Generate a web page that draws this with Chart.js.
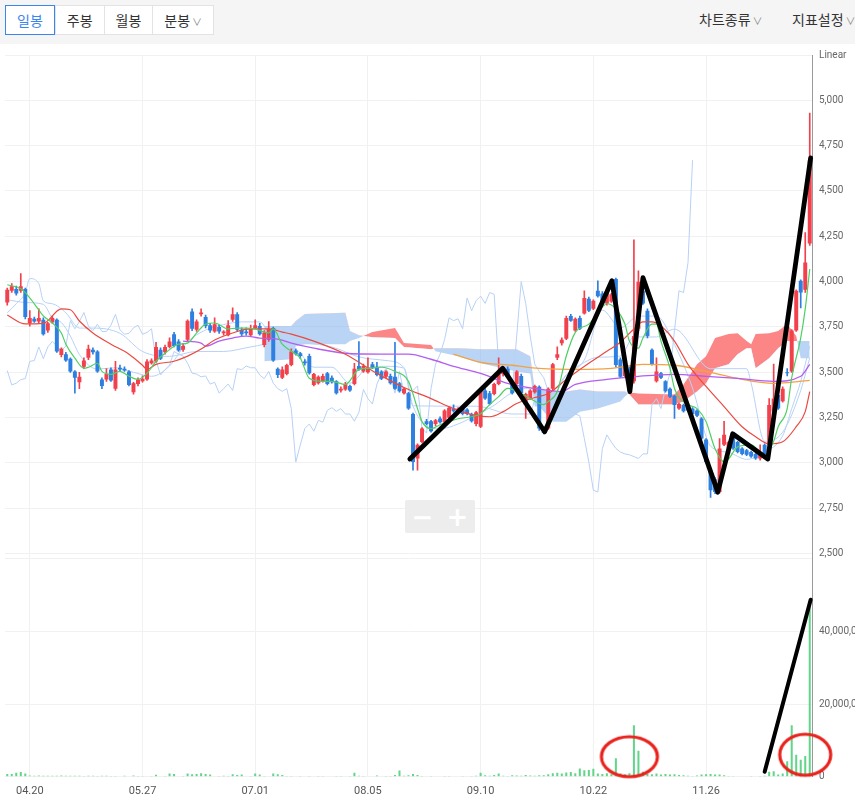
<!DOCTYPE html>
<html lang="ko">
<head>
<meta charset="utf-8">
<title>일봉 차트</title>
<script src="https://cdn.jsdelivr.net/npm/chart.js@4.4.1/dist/chart.umd.min.js"></script>
<style>
  html, body { margin: 0; padding: 0; background: #fff; }
  body { width: 855px; height: 801px; position: relative; overflow: hidden;
         font-family: "Noto Sans CJK KR", "Noto Sans", sans-serif; }
  #chart { position: absolute; left: 0; top: 0; }
  #bar { position: absolute; left: 0; top: 0; width: 855px; height: 44px; background: #f5f5f5; }
  .tabs { position: absolute; left: 5px; top: 5px; display: flex; background: #fff; border: 1px solid #e3e3e3; }
  .tabs b { display: block; height: 28px; line-height: 28px; padding: 0 11px; font-size: 14px; font-weight: normal; color: #333; border-left: 1px solid #e3e3e3; }
  .tabs b.on { border: 1px solid #3a86f0; color: #3a86f0; margin: -1px 0 -1px -1px; }
  .menu { position: absolute; top: 9px; font-size: 14px; color: #333; white-space: nowrap; }
  i.arr { font-style: normal; font-size: 10px; color: #888; margin-left: 2px; }
  #zoomer { position: absolute; left: 405px; top: 500px; width: 70px; height: 33px; background: #ededed; border-radius: 2px;
            display: flex; justify-content: space-around; align-items: center; color: #fff; font: bold 26px "DejaVu Sans", sans-serif; }
</style>
</head>
<body>
<canvas id="chart" width="855" height="812"></canvas>
<div id="bar">
  <div class="tabs"><b class="on">일봉</b><b>주봉</b><b>월봉</b><b>분봉<i class="arr">∨</i></b></div>
  <div class="menu" style="left:699px">차트종류<i class="arr">∨</i></div>
  <div class="menu" style="left:792px">지표설정<i class="arr">∨</i></div>
</div>
<div id="zoomer"><span>−</span><span>+</span></div>
<script>
// 일봉 시세 (원)
const openP = [3885,3950,3960,3950,3960,3770,3795,3780,3790,3730,
  3775,3790,3595,3600,3575,3505,3445,3530,3580,3625,
  3615,3460,3460,3515,3410,3525,3520,3505,3390,3435,
  3450,3460,3550,3560,3625,3610,3640,3710,3670,3625,
  3680,3835,3735,3820,3805,3760,3725,3750,3715,3705,
  3790,3820,3735,3725,3705,3745,3755,3650,3680,3745,
  3520,3470,3490,3540,3620,3605,3560,3590,3430,3440,
  3450,3495,3470,3450,3400,3405,3425,3435,3535,3505,
  3500,3545,3525,3505,3475,3480,3475,3440,3385,3385,
  3270,3025,3115,3230,3230,3215,3245,3225,3250,3300,
  3285,3300,3295,3270,3215,3200,3400,3385,3380,3435,
  3490,3520,3435,3435,3480,3320,3355,3390,3420,3190,
  3190,3410,3580,3660,3685,3810,3730,3800,3825,3905,
  3850,3950,3935,3880,3890,4015,3570,3480,3520,3450,
  3740,3950,3840,3625,3450,3495,3450,3410,3370,3300,
  3320,3305,3300,3290,3245,3130,2950,2910,2840,3100,
  3080,3150,3115,3080,3070,3060,3050,3025,3100,3100,
  3285,3375,3340,3500,3505,3730,4005,3955,4210];
const highP = [3965,3990,3975,4045,3965,3840,3805,3850,3800,3775,
  3810,3795,3635,3610,3580,3510,3500,3580,3650,3635,
  3620,3470,3520,3525,3560,3540,3530,3510,3445,3470,
  3480,3570,3575,3665,3635,3650,3690,3720,3680,3660,
  3790,3850,3790,3850,3815,3770,3800,3760,3730,3785,
  3855,3830,3745,3745,3760,3790,3770,3730,3780,3750,
  3525,3530,3545,3630,3630,3610,3570,3600,3495,3480,
  3490,3500,3480,3455,3420,3445,3430,3550,3670,3545,
  3580,3555,3555,3510,3510,3490,3665,3445,3415,3390,
  3275,3105,3195,3240,3235,3240,3255,3295,3310,3320,
  3305,3310,3300,3275,3285,3410,3410,3395,3440,3580,
  3525,3530,3445,3510,3490,3385,3405,3430,3425,3195,
  3415,3550,3640,3690,3810,3820,3800,3810,3950,3915,
  3900,4005,3945,3945,3935,4020,3580,3545,3530,4230,
  4060,3965,3850,3630,3580,3500,3455,3415,3375,3330,
  3325,3310,3305,3295,3250,3135,2955,2920,3135,3230,
  3120,3155,3120,3085,3075,3065,3055,3100,3105,3355,
  3545,3380,3420,3520,3735,3955,4010,4270,4930];
const lowP = [3870,3940,3925,3940,3795,3755,3775,3770,3705,3720,
  3770,3610,3585,3560,3500,3385,3410,3520,3570,3600,
  3500,3410,3450,3450,3400,3505,3505,3425,3380,3425,
  3445,3455,3545,3555,3570,3600,3635,3640,3615,3615,
  3675,3730,3725,3810,3745,3720,3720,3715,3705,3700,
  3780,3730,3700,3705,3700,3740,3705,3640,3670,3560,
  3470,3465,3485,3535,3595,3575,3540,3490,3425,3435,
  3445,3430,3440,3380,3390,3400,3395,3430,3510,3500,
  3495,3520,3480,3460,3470,3435,3405,3390,3380,3295,
  2960,2960,3110,3210,3170,3205,3220,3215,3240,3280,
  3275,3265,3265,3225,3205,3195,3350,3320,3375,3430,
  3480,3470,3380,3430,3380,3245,3350,3385,3180,3160,
  3185,3400,3570,3650,3680,3780,3725,3735,3820,3835,
  3845,3915,3875,3870,3885,3530,3470,3470,3390,3440,
  3730,3875,3690,3540,3445,3465,3390,3360,3245,3295,
  3280,3285,3265,3255,3130,3000,2810,2830,2835,3095,
  3075,3075,3055,3045,3040,3030,3020,3015,3045,3095,
  3280,3295,3335,3480,3500,3725,3855,3940,4200];
const closeP = [3955,3975,3935,3975,3805,3800,3780,3800,3710,3770,
  3800,3615,3630,3565,3505,3470,3475,3565,3630,3610,
  3505,3425,3490,3455,3515,3515,3510,3430,3440,3460,
  3465,3560,3565,3640,3575,3640,3670,3645,3620,3645,
  3785,3740,3780,3830,3755,3730,3765,3725,3725,3760,
  3820,3735,3710,3715,3745,3760,3710,3720,3740,3565,
  3485,3515,3540,3615,3600,3590,3550,3495,3490,3475,
  3480,3435,3445,3385,3410,3435,3400,3520,3515,3535,
  3525,3525,3485,3465,3505,3440,3410,3395,3410,3300,
  3005,3100,3190,3215,3175,3235,3225,3290,3305,3285,
  3300,3270,3270,3230,3280,3405,3355,3325,3435,3490,
  3520,3475,3385,3505,3385,3380,3400,3425,3190,3165,
  3410,3545,3600,3680,3800,3785,3795,3740,3910,3840,
  3895,3920,3880,3940,3930,3540,3475,3540,3395,3700,
  4000,3880,3700,3545,3505,3470,3395,3365,3320,3325,
  3285,3290,3270,3260,3135,3005,2850,2840,3080,3155,
  3115,3080,3060,3050,3045,3035,3025,3050,3050,3320,
  3355,3300,3410,3495,3730,3950,3940,4105,4670];
// 거래량 (천주)
const volK = [750,750,1100,1300,900,350,300,350,300,320,
  300,280,350,300,280,320,300,250,300,280,
  250,300,280,200,250,150,300,120,350,100,
  80,150,100,550,120,100,900,800,150,100,
  900,700,800,1000,750,600,150,200,300,250,
  700,500,650,150,100,900,600,200,150,900,
  700,500,200,250,150,100,120,100,150,200,
  100,150,120,100,80,150,200,1100,300,200,
  150,120,350,150,100,200,500,1700,300,400,
  750,500,200,150,100,120,150,100,200,150,
  120,100,150,200,300,1100,400,300,500,900,
  300,200,400,350,300,500,350,300,450,400,
  700,1000,1100,900,1200,1300,1000,2300,1800,1900,
  2200,900,800,1000,700,5100,900,700,1000,14200,
  7200,1400,800,700,900,600,800,650,700,500,
  450,300,250,350,600,700,750,650,600,400,
  250,200,150,120,150,100,150,200,300,1400,
  1500,600,900,4300,14200,6100,4700,5700,48000];

const tickDates = ['04.20', '05.27', '07.01', '08.05', '09.10', '10.22', '11.26'];
const tickAt = [5, 30, 55, 80, 105, 130, 155];
const volTicks = [0, 20000, 40000, 60000];

// 이동평균선 [봉 위치, 값]
const ma5 = [[0,3983],[3,3961],[4,3939],[6,3878],[8,3811],[10,3772],[12,3717],[13,3655],[15,3578],[17,3522],[18,3528],
  [20,3550],[21,3505],[23,3489],[25,3505],[27,3478],[29,3461],[31,3494],[33,3561],[35,3605],[38,3655],[40,3661],
  [42,3717],[44,3766],[46,3772],[49,3739],[51,3744],[53,3744],[55,3739],[58,3717],[59,3739],[61,3655],[63,3616],
  [65,3578],[67,3467],[70,3450],[72,3450],[75,3433],[78,3516],[80,3522],[83,3528],[86,3505],[89,3450],[91,3300],
  [92,3228],[94,3189],[96,3211],[98,3228],[100,3244],[103,3255],[105,3272],[107,3322],[109,3366],[111,3411],
  [114,3383],[116,3355],[119,3322],[120,3339],[122,3394],[124,3590],[126,3720],[129,3766],[131,3828],[133,3878],
  [135,3850],[137,3766],[138,3672],[140,3633],[141,3689],[143,3766],[144,3766],[145,3672],[147,3522],[148,3411],
  [151,3322],[153,3300],[155,3228],[157,3078],[159,3006],[160,3022],[162,3089],[165,3100],[167,3061],[168,3044],
  [170,3120],[171,3200],[173,3300],[174,3470],[176,3690],[177,3850],[178,4070]];
const ma20 = [[0,3816],[4,3767],[8,3770],[12,3850],[14,3845],[16,3783],[19,3717],[23,3655],[27,3600],[30,3539],
  [31,3516],[33,3544],[37,3561],[40,3589],[43,3628],[46,3678],[50,3717],[54,3739],[58,3739],[61,3722],[63,3711],
  [68,3672],[75,3600],[82,3494],[88,3416],[94,3355],[99,3300],[104,3261],[107,3255],[110,3283],[113,3328],
  [117,3361],[120,3383],[124,3461],[129,3550],[133,3616],[136,3666],[139,3739],[141,3778],[143,3778],[145,3755],
  [148,3672],[151,3544],[155,3422],[159,3311],[163,3200],[166,3144],[169,3105],[172,3117],[175,3200],[177,3283],[178,3394]];
const ma60 = [[39,3672],[43,3661],[44,3644],[47,3672],[50,3689],[53,3700],[56,3689],[60,3683],[63,3661],[68,3633],
  [75,3605],[83,3600],[89,3600],[94,3572],[99,3533],[105,3494],[111,3439],[117,3411],[123,3394],[126,3433],
  [133,3461],[140,3478],[148,3489],[155,3478],[162,3466],[170,3450],[176,3478],[178,3544]];
const ma120 = [[99,3600],[105,3555],[112,3539],[118,3522],[127,3516],[134,3522],[141,3544],[148,3539],[155,3505],
  [162,3466],[170,3439],[178,3455]];

// 일목균형표
const tenkan = [[0,3900],[4,3885],[8,3875],[10,3800],[12,3775],[14,3700],[16,3598],[20,3518],[24,3525],[28,3500],
  [32,3478],[36,3535],[40,3668],[44,3733],[48,3763],[52,3778],[56,3778],[60,3630],[64,3623],[68,3528],[72,3528],
  [76,3440],[80,3525],[84,3533],[88,3523],[90,3313],[96,3188],[100,3215],[104,3263],[108,3318],[112,3388],
  [116,3413],[120,3335],[124,3485],[128,3568],[132,3843],[136,3745],[140,3810],[144,3810],[148,3653],[152,3413],
  [156,3093],[160,3058],[164,3020],[168,3060],[172,3150],[174,3300],[176,3450],[178,3645]];
const kijun = [[0,3828],[2,3878],[4,3939],[5,4017],[7,3989],[8,3894],[10,3878],[13,3828],[16,3744],[19,3744],
  [25,3715],[30,3615],[36,3588],[42,3615],[48,3615],[54,3640],[60,3663],[66,3660],[72,3640],[78,3585],[84,3565],
  [88,3525],[90,3315],[104,3313],[112,3270],[116,3270],[117,3345],[120,3370],[124,3485],[128,3555],[131,3583],
  [136,3590],[139,3695],[144,3695],[148,3738],[156,3520],[164,3520],[165,3440],[168,3120],[172,3170],[176,3400],[178,3580]];
const cloudAt = [57,63,64,66,75,76,78,81,86,88,94,95,100,105,113,116,117,118,121,124,127,131,136,137,138,140,148,
  150,153,155,157,160,162,164,165,166,169,171,173,175,176,178];
const spanA = [3561,3572,3644,3655,3655,3672,3689,3722,3744,3661,3650,3616,3589,3550,3505,3494,3311,3311,3228,3228,
  3283,3300,3339,3366,3389,3383,3378,3433,3544,3589,3689,3711,3716,3672,3655,3711,3716,3728,3766,3700,3578,3578];
const spanB = [3755,3755,3783,3822,3828,3728,3705,3694,3689,3639,3627,3633,3633,3627,3627,3589,3405,3405,3394,3394,
  3405,3394,3394,3394,3378,3322,3322,3339,3394,3439,3522,3544,3600,3633,3633,3522,3578,3633,3672,3672,3672,3672];

// 손으로 그린 표시
const zigAt = [89.3, 109.9, 119.2, 134.1, 138.1, 141.0, 157.6, 160.9, 168.7, 178.2];
const zigP = [3022, 3522, 3172, 4005, 3394, 4022, 2839, 3161, 3022, 4683];
const volLineAt = [168.0, 178.2];
const volLineK = [1380, 48700];
const ringAt = [138.0, 177.0];
const ringK = [5530, 6080];

const RED = '#f2404c', BLUE = '#2d7fe0', CLOUD_LINE = '#b7d1f6';
const n = closeP.length;
const labels = closeP.map(() => '');
tickAt.forEach((p, k) => { labels[p] = tickDates[k]; });
const candleColor = closeP.map((c, i) => c > openP[i] ? RED : BLUE);
const pts = arr => arr.map(([x, y]) => ({x, y}));
const chikou = closeP.slice(26).map((c, k) => ({x: k, y: c}));

function ring(w, h) {
  const c = document.createElement('canvas');
  c.width = w + 6; c.height = h + 6;
  const g = c.getContext('2d');
  g.strokeStyle = '#e8221c';
  g.lineWidth = 3.2;
  g.beginPath();
  g.ellipse(c.width / 2, c.height / 2, w / 2, h / 2, 0, 0, Math.PI * 2);
  g.stroke();
  return c;
}

const line = (data, color, width, order, extra) => Object.assign({
  type: 'line', data: pts(data), xAxisID: 'xl', yAxisID: 'y', borderColor: color, borderWidth: width,
  pointRadius: 0, tension: 0.35, cubicInterpolationMode: 'monotone', fill: false, order
}, extra || {});

Chart.defaults.font.family = 'Roboto, "Noto Sans", sans-serif';

new Chart(document.getElementById('chart').getContext('2d'), {
  type: 'bar',
  data: {
    labels: labels,
    datasets: [
      { type: 'line', data: zigAt.map((x, k) => ({x, y: zigP[k]})), xAxisID: 'xl', yAxisID: 'y',
        borderColor: '#000', borderWidth: 4.8, borderCapStyle: 'round', borderJoinStyle: 'round',
        pointRadius: 0, tension: 0, fill: false, order: 0, clip: false },
      { type: 'line', data: volLineAt.map((x, k) => ({x, y: volLineK[k]})), xAxisID: 'xl', yAxisID: 'yv',
        borderColor: '#000', borderWidth: 4, borderCapStyle: 'round', pointRadius: 0, fill: false, order: 0, clip: false },
      { type: 'scatter', data: ringAt.map((x, k) => ({x, y: ringK[k]})), xAxisID: 'xl', yAxisID: 'yv',
        pointStyle: [ring(56, 40), ring(51, 41)], pointRadius: 1, hoverRadius: 0, order: 0, clip: false },
      line(ma5, '#4fcf63', 1.2, 1),
      line(ma20, '#ea4a40', 1.2, 2),
      line(ma60, '#b35ef0', 1.3, 3),
      line(ma120, '#f2a245', 1.3, 4),
      { label: 'body', data: openP.map((o, i) => [o, closeP[i]]), backgroundColor: candleColor,
        grouped: false, barPercentage: 0.88, categoryPercentage: 1, minBarLength: 1, order: 5 },
      { label: 'wick', data: lowP.map((l, i) => [l, highP[i]]), backgroundColor: candleColor,
        grouped: false, barThickness: 1, order: 6 },
      line(tenkan, CLOUD_LINE, 1, 7, { tension: 0 }),
      line(kijun, CLOUD_LINE, 1, 7, { tension: 0 }),
      { type: 'line', data: chikou, xAxisID: 'xl', yAxisID: 'y', borderColor: CLOUD_LINE, borderWidth: 1,
        pointRadius: 0, tension: 0, fill: false, order: 7 },
      { type: 'line', data: cloudAt.map((x, k) => ({x, y: spanA[k]})), xAxisID: 'xl', yAxisID: 'y',
        borderWidth: 0, pointRadius: 0, tension: 0, order: 8,
        fill: { target: '+1', above: 'rgba(251, 100, 100, 0.78)', below: 'rgba(128, 176, 236, 0.55)' } },
      { type: 'line', data: cloudAt.map((x, k) => ({x, y: spanB[k]})), xAxisID: 'xl', yAxisID: 'y',
        borderWidth: 0, pointRadius: 0, tension: 0, fill: false, order: 8 },
      { label: 'volume', data: volK, yAxisID: 'yv', backgroundColor: '#62d58a',
        grouped: false, barPercentage: 0.45, categoryPercentage: 1, order: 9 }
    ]
  },
  options: {
    responsive: false,
    animation: false,
    events: [],
    layout: { autoPadding: false, padding: { top: 55, left: 5, right: 0, bottom: 6 } },
    plugins: {
      legend: { display: false },
      tooltip: { enabled: false },
      filler: { drawTime: 'beforeDatasetsDraw' }
    },
    scales: {
      x: {
        type: 'category', offset: true,
        grid: { offset: false, color: '#f1f1f1', drawTicks: false },
        border: { display: false },
        ticks: { autoSkip: false, maxRotation: 0, padding: 8, color: '#555', font: { size: 11 } },
        afterBuildTicks: s => { s.ticks = tickAt.map(v => ({ value: v })); },
        afterFit: s => { s.paddingLeft = 0; s.paddingRight = 0; }
      },
      xl: { type: 'linear', display: false, offset: false, bounds: 'data', min: -0.5, max: n - 0.5,
            grid: { offset: false } },
      y: {
        position: 'right', stack: 'panes', stackWeight: 496, min: 2500, max: 5250,
        grid: { color: '#f1f1f1', drawTicks: false },
        border: { color: '#9a9a9a' },
        ticks: { stepSize: 250, padding: 7, color: '#666', font: { size: 10 },
                 callback: v => v === 5250 ? 'Linear' : v.toLocaleString('en-US') },
        afterFit: s => { s.width = 43; }
      },
      yv: {
        position: 'right', stack: 'panes', stackWeight: 222, min: 0, max: 61400,
        grid: { color: '#f1f1f1', drawTicks: false },
        border: { color: '#9a9a9a' },
        ticks: { autoSkip: false, padding: 7, color: '#666', font: { size: 10 },
                 callback: v => v <= 40000 ? (v * 1000).toLocaleString('en-US') : '' },
        afterBuildTicks: s => { s.ticks = volTicks.map(v => ({ value: v })); },
        afterFit: s => { s.width = 43; }
      }
    }
  }
});
</script>
</body>
</html>
